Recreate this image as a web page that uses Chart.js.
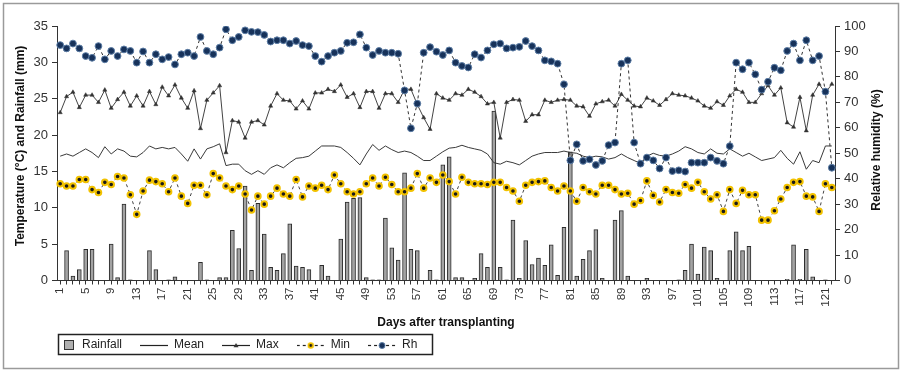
<!DOCTYPE html>
<html><head><meta charset="utf-8">
<script src="https://cdn.jsdelivr.net/npm/chart.js@4.4.1/dist/chart.umd.min.js"></script>
<style>html,body{margin:0;padding:0;background:#fff;}canvas{display:block;}</style>
</head><body>
<canvas id="c" width="902" height="372"></canvas>
<script>
// ---------- DATA ----------
const days = Array.from({length: 122}, (_, i) => String(i + 1));
const labeledDays = ['1','5','9','13','17','21','25','29','33','37','41','45','49','53','57','61','65','69','73','77','81','85','89','93','97','101','105','109','113','117','121'];

const rainfall = [
0, 4.1, 0.6, 1.5, 4.3, 4.3, 0, 0, 5.0, 0.4,
10.5, 0.1, 0, 0, 4.1, 1.5, 0, 0.1, 0.5, 0,
0, 0, 2.5, 0.1, 0, 0.4, 0.4, 6.9, 4.4, 13.0,
1.4, 10.6, 6.4, 1.8, 1.4, 3.7, 7.8, 2.0, 1.8, 1.5,
0, 2.1, 0.6, 0, 5.7, 10.8, 11.3, 11.4, 0.4, 0.1,
0.1, 8.6, 4.5, 2.8, 14.8, 4.3, 4.1, 0, 1.4, 0.1,
15.9, 17.0, 0.4, 0.4, 0, 0.3, 3.7, 1.8, 23.3, 1.8,
0.1, 8.3, 0.3, 5.5, 2.2, 3.1, 2.1, 4.9, 0.7, 7.3,
17.7, 0.6, 2.9, 4.1, 7.0, 0.3, 0, 8.3, 9.6, 0.6,
0, 0, 0.3, 0, 0, 0, 0, 0.1, 1.4, 5.0,
0.9, 4.6, 4.1, 0.3, 0, 4.1, 6.7, 4.1, 4.7, 0,
0, 0, 0, 0, 0.15, 4.9, 0.15, 4.3, 0.5, 0,
0.1, 0
];

const meanT = [
17.1, 17.4, 17.1, 17.6, 18.1, 17.6, 16.9, 18.4, 17.4, 18.1,
17.8, 17.1, 17.0, 17.6, 18.5, 18.1, 18.3, 18.1, 18.3, 17.4,
16.4, 18.1, 16.7, 18.1, 18.4, 18.8, 15.8, 16.0, 16.0, 15.1,
14.6, 15.1, 14.6, 15.5, 15.9, 15.5, 16.2, 16.8, 16.9, 17.1,
17.8, 18.5, 18.5, 18.5, 18.3, 17.6, 16.8, 15.9, 17.4, 18.7,
17.9, 18.5, 18.0, 17.6, 17.8, 17.6, 17.1, 16.5, 16.5, 17.1,
17.7, 18.2, 18.3, 18.6, 18.3, 18.1, 17.9, 17.4, 16.2, 16.0,
16.4, 16.2, 15.9, 16.5, 17.1, 17.4, 17.6, 17.6, 17.6, 17.8,
17.6, 17.5, 17.1, 16.9, 17.1, 17.0, 16.7, 16.9, 17.4, 16.9,
16.5, 16.1, 17.1, 17.5, 17.2, 17.1, 17.4, 17.8, 18.4, 18.1,
17.6, 17.4, 18.1, 17.5, 17.4, 18.1, 17.6, 17.1, 17.5, 17.0,
16.5, 16.7, 16.9, 17.9, 16.8, 16.0, 17.7, 15.3, 16.5, 16.2,
18.5, 18.5
];

const maxT = [
23.1, 25.3, 25.9, 23.8, 25.5, 25.5, 24.5, 26.2, 23.7, 24.9,
25.9, 24.0, 25.4, 24.0, 26.0, 24.2, 26.6, 25.4, 26.9, 25.1,
23.7, 26.1, 20.9, 24.8, 25.8, 26.8, 17.6, 22.0, 21.8, 19.6,
21.8, 22.0, 21.4, 24.0, 25.7, 24.8, 24.7, 23.6, 24.7, 23.6,
25.8, 25.8, 26.3, 26.0, 26.9, 25.2, 25.7, 23.8, 26.0, 26.0,
23.7, 25.7, 25.7, 24.5, 26.3, 26.3, 24.2, 22.4, 20.8, 25.7,
25.1, 24.8, 25.7, 25.5, 26.3, 25.9, 25.3, 24.3, 24.5, 19.6,
24.5, 24.9, 24.8, 21.9, 22.8, 22.8, 24.8, 24.5, 24.8, 24.9,
24.8, 24.0, 23.9, 22.6, 24.3, 24.6, 24.8, 24.0, 25.6, 24.8,
24.0, 23.9, 25.1, 24.7, 24.1, 24.9, 25.7, 25.5, 25.4, 25.1,
24.7, 24.0, 23.7, 24.6, 24.1, 25.4, 26.3, 25.9, 24.5, 24.5,
25.7, 26.8, 25.5, 26.5, 21.7, 21.1, 25.2, 20.6, 25.5, 27.0,
25.8, 27.0
];

const minT = [
13.3, 13.0, 13.0, 13.9, 13.9, 12.5, 12.1, 13.5, 13.2, 14.3,
14.1, 11.8, 9.1, 12.3, 13.8, 13.6, 13.3, 12.2, 14.1, 11.6,
10.6, 13.1, 13.1, 11.8, 14.7, 14.1, 13.0, 12.5, 13.0, 11.9,
9.7, 11.6, 10.5, 11.6, 12.7, 11.9, 11.6, 13.9, 11.5, 13.0,
12.7, 13.1, 12.5, 14.5, 13.3, 12.2, 11.9, 12.2, 13.3, 14.1,
13.0, 14.2, 13.2, 12.2, 12.2, 12.7, 14.7, 12.7, 14.1, 13.5,
14.5, 13.6, 11.9, 14.2, 13.5, 13.3, 13.3, 13.2, 13.5, 13.5,
12.8, 12.3, 10.9, 13.1, 13.5, 13.6, 13.7, 12.8, 12.3, 13.0,
12.3, 10.9, 12.8, 12.2, 11.9, 13.1, 13.1, 12.5, 11.9, 12.0,
10.5, 11.0, 13.7, 11.7, 10.8, 12.5, 12.1, 12.0, 13.2, 12.7,
13.5, 12.2, 11.2, 11.8, 9.5, 12.5, 10.6, 12.4, 11.8, 11.8,
8.3, 8.3, 9.6, 11.2, 12.8, 13.5, 13.6, 11.6, 11.5, 9.5,
13.3, 12.8
];

const rh = [
92.5, 91.2, 93.1, 91.2, 88.2, 87.5, 92.1, 86.9, 90.2, 88.2,
90.8, 90.2, 85.6, 90.0, 85.6, 88.9, 86.9, 87.8, 84.9, 88.9,
89.5, 88.2, 95.7, 90.2, 88.9, 91.5, 98.7, 94.4, 95.7, 98.3,
97.7, 97.6, 96.5, 93.9, 94.4, 94.4, 93.1, 94.1, 92.5, 92.1,
88.2, 86.0, 88.2, 89.5, 90.2, 93.4, 93.6, 96.7, 91.5, 88.6,
90.2, 89.5, 89.5, 89.1, 74.7, 59.8, 69.5, 89.5, 91.7, 89.9,
88.6, 90.4, 85.6, 84.3, 83.7, 88.9, 87.6, 90.4, 92.8, 93.1,
91.2, 91.5, 91.8, 94.1, 92.1, 90.4, 86.5, 86.1, 85.2, 77.1,
47.2, 53.5, 47.0, 47.6, 45.4, 47.0, 53.2, 54.2, 85.2, 86.5,
54.2, 45.9, 48.3, 47.2, 44.0, 48.3, 43.0, 43.3, 42.8, 46.3,
46.3, 46.3, 48.3, 47.0, 45.9, 52.8, 85.6, 83.0, 85.6, 81.0,
75.0, 78.1, 83.6, 82.6, 90.2, 93.1, 86.5, 94.4, 86.5, 88.2,
74.2, 44.3
];

// ---------- STYLE ----------
const FF = "'Liberation Sans', Arial, sans-serif";
Chart.defaults.font.family = FF;
Chart.defaults.color = '#222';

const RH_FILL = '#17325a', RH_EDGE = '#5d7ea6';
const MIN_FILL = '#1a1a1a', MIN_EDGE = '#f2c200';
const LEFT_TITLE = 'Temperature (°C) and Rainfall (mm)';
const RIGHT_TITLE = 'Relative humidity (%)';

function legendIcon(kind) {
  const c = document.createElement('canvas');
  c.width = 28; c.height = 14;
  const g = c.getContext('2d');
  const y = 7.5;
  if (kind === 'bar') {
    g.fillStyle = '#b0b0b0'; g.fillRect(16.5, 2.5, 9, 9);
    g.strokeStyle = '#333'; g.lineWidth = 1; g.strokeRect(16.5, 2.5, 9, 9);
    return c;
  }
  g.strokeStyle = '#222'; g.lineWidth = 1.2;
  if (kind === 'min' || kind === 'rh') g.setLineDash([3, 3]);
  g.beginPath(); g.moveTo(0, y); g.lineTo(28, y); g.stroke();
  g.setLineDash([]);
  if (kind === 'max') {
    g.fillStyle = '#333'; g.beginPath();
    g.moveTo(14, y - 2.5); g.lineTo(16.5, y + 1.8); g.lineTo(11.5, y + 1.8); g.closePath(); g.fill();
  } else if (kind === 'min') {
    g.fillStyle = MIN_FILL; g.strokeStyle = MIN_EDGE; g.lineWidth = 1.8;
    g.beginPath(); g.arc(14, y, 2.3, 0, Math.PI * 2); g.fill(); g.stroke();
  } else if (kind === 'rh') {
    g.fillStyle = RH_FILL; g.strokeStyle = RH_EDGE; g.lineWidth = 1;
    g.beginPath(); g.arc(14, y, 3, 0, Math.PI * 2); g.fill(); g.stroke();
  }
  return c;
}
const icons = [legendIcon('bar'), legendIcon('mean'), legendIcon('max'), legendIcon('min'), legendIcon('rh')];

function drawVerticalTitle(ctx, text, x, y) {
  ctx.save();
  ctx.translate(x, y);
  ctx.rotate(-Math.PI / 2);
  ctx.font = 'bold 12px ' + FF;
  ctx.fillStyle = '#111';
  ctx.textAlign = 'center';
  ctx.textBaseline = 'middle';
  ctx.fillText(text, 0, 0);
  ctx.restore();
}

const framePlugin = {
  id: 'frame',
  beforeDraw(chart) {
    const ctx = chart.ctx;
    ctx.save(); ctx.fillStyle = '#fff'; ctx.fillRect(0, 0, chart.width, chart.height); ctx.restore();
  },
  afterLayout(chart) {
    const lg = chart.legend;
    if (!lg) return;
    const pad = lg.options.labels.padding;
    const h = lg.height;
    lg.left = 48 - pad;
    lg.right = 902;
    lg.top = 345 - 6 - pad;
    lg.bottom = lg.top + h;
  },
  afterDraw(chart) {
    const ctx = chart.ctx;
    drawVerticalTitle(ctx, LEFT_TITLE, 21, 146);
    drawVerticalTitle(ctx, RIGHT_TITLE, 877, 150);
    ctx.save();
    ctx.strokeStyle = '#222'; ctx.lineWidth = 1.5;
    ctx.strokeRect(58.5, 334.5, 374, 20);
    ctx.strokeStyle = '#9a9a9a'; ctx.lineWidth = 1.5;
    ctx.strokeRect(3.5, 3.5, 895, 365);
    ctx.restore();
  }
};

new Chart(document.getElementById('c'), {
  type: 'bar',
  data: {
    labels: days,
    datasets: [
      { type: 'bar', label: 'Rainfall', data: rainfall, yAxisID: 'y',
        backgroundColor: '#a3a3a3', borderColor: '#2b2b2b', borderWidth: 1, barThickness: 4, order: 10 },
      { type: 'line', label: 'Mean', data: meanT, yAxisID: 'y',
        borderColor: '#3a3a3a', borderWidth: 1, pointRadius: 0, tension: 0, order: 4 },
      { type: 'line', label: 'Max', data: maxT, yAxisID: 'y',
        borderColor: '#444', borderWidth: 1, pointStyle: 'triangle', pointRadius: 2.4,
        pointBackgroundColor: '#333', pointBorderColor: '#333', pointBorderWidth: 0.5, tension: 0, order: 3 },
      { type: 'line', label: 'Min', data: minT, yAxisID: 'y',
        borderColor: '#444', borderWidth: 1, borderDash: [3, 3], pointStyle: 'circle', pointRadius: 2.8,
        pointBackgroundColor: MIN_FILL, pointBorderColor: MIN_EDGE, pointBorderWidth: 2, tension: 0, order: 2 },
      { type: 'line', label: 'Rh', data: rh, yAxisID: 'y1',
        borderColor: '#333', borderWidth: 1, borderDash: [3, 3], pointStyle: 'circle', pointRadius: 3.4,
        pointBackgroundColor: RH_FILL, pointBorderColor: RH_EDGE, pointBorderWidth: 1, tension: 0, order: 1 }
    ]
  },
  options: {
    responsive: false,
    animation: false,
    devicePixelRatio: 1,
    layout: { padding: { left: 0, right: 0, top: 26, bottom: 0 } },
    plugins: {
      tooltip: { enabled: false },
      legend: {
        display: true, position: 'bottom', align: 'start',
        labels: {
          usePointStyle: true, pointStyleWidth: 28, padding: 18,
          font: { size: 12 }, color: '#222',
          generateLabels(chart) {
            return chart.data.datasets.map((ds, i) => ({
              text: ds.label, pointStyle: icons[i], datasetIndex: i, hidden: false,
              fillStyle: 'rgba(0,0,0,0)', strokeStyle: 'rgba(0,0,0,0)', lineWidth: 0, fontColor: '#222'
            }));
          }
        }
      }
    },
    scales: {
      x: {
        type: 'category', offset: true,
        grid: { display: true, drawOnChartArea: false, drawTicks: true, tickLength: 4, offset: false, color: '#333', lineWidth: 1 },
        border: { display: true, color: '#333', width: 1 },
        ticks: {
          autoSkip: false, maxRotation: 90, minRotation: 90, padding: 3,
          font: { size: 11.5 }, color: '#333',
          callback(v, i) { const l = days[i]; return labeledDays.includes(l) ? l : ''; }
        },
        title: { display: true, text: 'Days after transplanting', font: { size: 12, weight: 'bold' }, color: '#111', padding: { top: 0, bottom: 2 } },
        afterCalculateLabelRotation(scale) { scale.labelRotation = 90; },
        afterFit(scale) { scale.height = 372 - 280.5 - scale.chart.legend.height; }
      },
      y: {
        position: 'left', min: 0, max: 35,
        ticks: { stepSize: 5, padding: 4, font: { size: 13 }, color: '#333' },
        grid: { drawOnChartArea: false, drawTicks: true, tickLength: 5, color: '#333' },
        border: { display: true, color: '#333', width: 1 },
        title: { display: false, text: LEFT_TITLE },
        afterFit(scale) { scale.width = 57; }
      },
      y1: {
        position: 'right', min: 0, max: 100,
        ticks: { stepSize: 10, padding: 4, font: { size: 13 }, color: '#333' },
        grid: { drawOnChartArea: false, drawTicks: true, tickLength: 5, color: '#333' },
        border: { display: true, color: '#333', width: 1 },
        title: { display: false, text: RIGHT_TITLE },
        afterFit(scale) { scale.width = 67; }
      }
    }
  },
  plugins: [framePlugin]
});
</script>
</body></html>
